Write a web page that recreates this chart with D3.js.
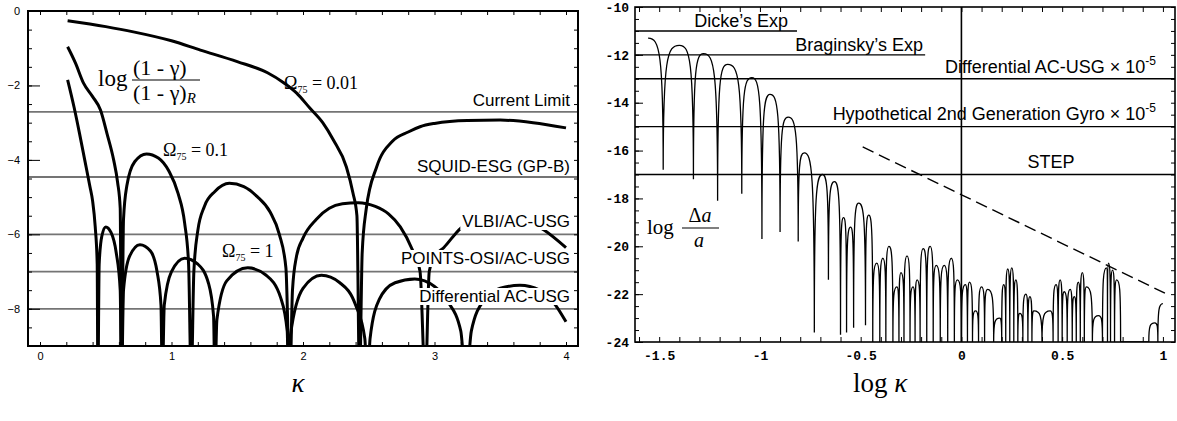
<!DOCTYPE html>
<html>
<head>
<meta charset="utf-8">
<script src="https://cdn.jsdelivr.net/npm/d3@7"></script>
<style>
body { margin: 0; background: #fff; }
svg { display: block; }
</style>
</head>
<body>
<svg id="chart" width="1177" height="421"></svg>
<script>
// ---------- left panel: log (1-g)/(1-g)_R against kappa ----------
const kappaTicks = [0, 1, 2, 3, 4];
const gammaTicks = [0, -2, -4, -6, -8];

// Omega_75 = 0.01
const curveOmega001 = [[0.21,-0.26],[0.5,-0.42],[0.71,-0.56],[1.0,-0.8],[1.22,-1.05],[1.5,-1.36],[1.73,-1.66],
  [1.85,-1.92],[1.95,-2.2],[2.05,-2.6],[2.15,-3.0],[2.23,-3.46],[2.33,-4.19],[2.38,-4.89],[2.41,-5.5],[2.43,-10],
  [2.45,-6.5],[2.48,-5.34],[2.56,-4.19],[2.68,-3.5],[2.8,-3.25],[2.89,-3.11],[3.0,-3.02],[3.25,-2.94],[3.5,-2.93],
  [3.75,-3.0],[4.0,-3.14]];
// Omega_75 = 0.1
const curveOmega01 = [[0.21,-0.96],[0.27,-1.4],[0.33,-1.93],[0.4,-2.3],[0.46,-2.66],[0.51,-3.3],[0.56,-4.0],[0.59,-4.6],
  [0.61,-5.3],[0.62,-10],[0.635,-5.6],[0.66,-4.7],[0.72,-4.05],[0.81,-3.84],[0.9,-3.95],[0.98,-4.3],[1.05,-4.9],
  [1.1,-5.7],[1.13,-6.8],[1.15,-10],[1.17,-7],[1.2,-5.9],[1.25,-5.25],[1.33,-4.85],[1.44,-4.63],[1.55,-4.72],
  [1.65,-4.98],[1.75,-5.4],[1.82,-6.0],[1.87,-6.9],[1.9,-10],[1.92,-7.5],[1.95,-6.6],[2.0,-6.1],[2.1,-5.6],[2.2,-5.3],
  [2.3,-5.18],[2.42,-5.15],[2.55,-5.25],[2.65,-5.45],[2.74,-5.8],[2.83,-6.4],[2.89,-7.0],[2.93,-10],[2.96,-7.0],
  [3.0,-6.6],[3.07,-6.36],[3.2,-5.83],[3.4,-5.5],[3.6,-5.5],[3.83,-5.88],[4.0,-6.36]];
// Omega_75 = 1
const curveOmega1 = [[0.21,-1.85],[0.26,-2.6],[0.30,-3.28],[0.34,-4.0],[0.38,-4.72],[0.40,-5.1],[0.42,-5.8],[0.435,-6.8],
  [0.44,-10],[0.45,-6.8],[0.47,-6.05],[0.50,-5.8],[0.54,-5.95],[0.58,-6.5],[0.61,-7.5],[0.62,-10],[0.635,-7.5],
  [0.68,-6.6],[0.76,-6.28],[0.84,-6.45],[0.89,-7.0],[0.92,-7.9],[0.93,-10],[0.945,-7.9],[1.0,-7.0],[1.1,-6.64],
  [1.2,-6.8],[1.28,-7.3],[1.32,-8.2],[1.33,-10],[1.345,-8.3],[1.42,-7.25],[1.58,-6.9],[1.72,-7.1],[1.83,-7.7],
  [1.88,-8.6],[1.89,-10],[1.905,-8.7],[2.0,-7.45],[2.14,-7.1],[2.28,-7.3],[2.4,-7.9],[2.47,-8.8],[2.49,-10],
  [2.51,-8.8],[2.58,-7.75],[2.7,-7.3],[2.85,-7.2],[3.0,-7.4],[3.1,-7.8],[3.2,-8.6],[3.24,-10],[3.28,-8.6],
  [3.38,-7.75],[3.5,-7.45],[3.65,-7.37],[3.8,-7.5],[3.92,-7.9],[4.0,-8.35]];

const gammaLimits = [-2.71, -4.46, -6, -7, -8];
const gammaLimitNames = ["Current Limit", "SQUID-ESG (GP-B)", "VLBI/AC-USG", "POINTS-OSI/AC-USG", "Differential AC-USG"];

// ---------- right panel: log da/a against log kappa ----------
const logKappaTicks = [-1.5, -1, -0.5, 0, 0.5, 1];
const daTicks = [-10, -12, -14, -16, -18, -20, -22, -24];
const daLimits = [-11, -12, -13, -15, -17];
const daLimitEnds = [-0.816, -0.18, null, null, null];
const daLimitNames = ["Dicke\u2019s Exp", "Braginsky\u2019s Exp", "Differential AC-USG", "Hypothetical 2nd Generation Gyro", "STEP"];
const stepLine = [[-0.49,-15.85],[1.01,-21.96]];
// peaks and dips of the oscillating curve, in order
const daExtrema = [[-1.555,-11.3],[-1.48,-16.8],[-1.40,-11.6],[-1.33,-17.2],[-1.28,-11.95],[-1.21,-18.1],[-1.16,-12.4],
  [-1.09,-17.8],[-1.04,-12.95],[-0.99,-19.7],[-0.95,-13.65],[-0.90,-19.4],[-0.86,-14.6],[-0.81,-19.8],[-0.78,-16.1],
  [-0.73,-23.6],[-0.69,-17.0],[-0.66,-21.4],[-0.63,-17.3],[-0.60,-23.7],[-0.585,-18.8],[-0.57,-23.6],[-0.55,-19.2],
  [-0.535,-23.4],[-0.51,-18.2],[-0.476,-23.3],[-0.46,-18.7],[-0.44,-24],[-0.42,-20.7],[-0.405,-24],[-0.39,-20.5],
  [-0.375,-24],[-0.36,-20.0],[-0.34,-24],[-0.32,-21.7],[-0.31,-24],[-0.30,-21.1],[-0.285,-24],[-0.27,-20.4],
  [-0.255,-24],[-0.24,-21.7],[-0.23,-24],[-0.22,-21.4],[-0.205,-24],[-0.19,-20.1],[-0.172,-24],[-0.155,-20.0],
  [-0.14,-24],[-0.125,-20.8],[-0.105,-24],[-0.085,-20.8],[-0.068,-24],[-0.05,-20.5],[-0.035,-24],[-0.02,-21.4],
  [0.0,-24],[0.02,-21.6],[0.03,-24],[0.04,-21.5],[0.055,-24],[0.07,-22.7],[0.085,-24],[0.10,-21.7],[0.115,-24],
  [0.13,-21.8],[0.16,-24],[0.19,-23.0],[0.20,-24],[0.21,-21.6],[0.22,-24],[0.23,-20.95],[0.24,-24],[0.25,-20.9],
  [0.26,-24],[0.27,-21.4],[0.28,-24],[0.29,-22.8],[0.305,-24],[0.32,-22.0],[0.33,-24],[0.34,-22.1],[0.35,-24],
  [0.36,-22.7],[0.40,-24],[0.44,-22.7],[0.455,-24],[0.47,-21.6],[0.48,-24],[0.49,-21.4],[0.50,-24],[0.51,-21.9],
  [0.525,-24],[0.54,-21.8],[0.55,-24],[0.56,-22.1],[0.57,-24],[0.58,-21.5],[0.59,-24],[0.60,-21.1],[0.61,-24],
  [0.62,-21.7],[0.65,-24],[0.68,-22.9],[0.70,-24],[0.72,-20.9],[0.725,-24],[0.73,-20.7],[0.74,-24],[0.75,-21.0],
  [0.76,-24],[0.77,-21.4],[0.79,-24],[0.93,-24],[0.96,-23.2],[0.975,-24],[1.0,-22.4]];

const svg = d3.select("#chart");
const sans = "Liberation Sans, Arial, sans-serif";
const serif = "Liberation Serif, Times New Roman, serif";
const mono = "Liberation Mono, Courier New, monospace";

// curve with a sharp cusp at every dip and a round top at every peak
function Cusp(context) { this._context = context; }
Cusp.prototype = {
  areaStart() {}, areaEnd() {},
  lineStart() { this._p = []; },
  point(x, y) { this._p.push([+x, +y]); },
  lineEnd() {
    const p = this._p, c = this._context;
    if (!p.length) return;
    c.moveTo(p[0][0], p[0][1]);
    for (let i = 1; i < p.length; i++) {
      const [x0, y0] = p[i - 1], [x1, y1] = p[i];
      if (y1 < y0) c.bezierCurveTo(x0, y0 + (y1 - y0) * 0.9, x0 + (x1 - x0) * 0.25, y1, x1, y1);
      else if (y1 > y0) c.bezierCurveTo(x0 + (x1 - x0) * 0.75, y0, x1, y1 + (y0 - y1) * 0.9, x1, y1);
      else c.lineTo(x1, y1);
    }
  }
};
const curveCusp = ctx => new Cusp(ctx);

// ================= left panel =================
const L = {x0: 28, x1: 578, y0: 11, y1: 346};
const xL = d3.scaleLinear().domain([0, 4]).range([40, 566]);
const yL = d3.scaleLinear().domain([-9, 0]).range([346, 11]);

svg.append("clipPath").attr("id", "clipL")
  .append("rect").attr("x", L.x0).attr("y", L.y0).attr("width", L.x1 - L.x0).attr("height", L.y1 - L.y0);

const left = svg.append("g");

// limit lines
left.selectAll("line.lim").data(gammaLimits).join("line")
  .attr("x1", L.x0).attr("x2", L.x1)
  .attr("y1", d => yL(d)).attr("y2", d => yL(d))
  .attr("stroke", "#747474").attr("stroke-width", 1.8);

const lineL = d3.line().x(d => xL(d[0])).y(d => yL(d[1])).curve(d3.curveMonotoneX);
left.append("g").attr("clip-path", "url(#clipL)")
  .selectAll("path").data([curveOmega001, curveOmega01, curveOmega1]).join("path")
  .attr("d", lineL).attr("fill", "none").attr("stroke", "#000").attr("stroke-width", 3);

// limit labels, with a white box behind the lower ones
const gammaLabelBase = [106, 172, 227, 264, 302];
gammaLimitNames.forEach((name, i) => {
  const g = left.append("g");
  const t = g.append("text").attr("x", 570).attr("y", gammaLabelBase[i])
    .attr("text-anchor", "end").attr("font-family", sans).attr("font-size", 17).text(name);
  if (i >= 2) {
    const b = t.node().getBBox();
    g.insert("rect", "text").attr("x", b.x - 2).attr("y", b.y + 1).attr("width", b.width + 4).attr("height", b.height - 2)
      .attr("fill", "#fff");
  }
});

// omega labels
function omegaLabel(g, x, y, val) {
  const t = g.append("text").attr("x", x).attr("y", y).attr("font-family", serif).attr("font-size", 18);
  t.append("tspan").text("\u03A9");
  t.append("tspan").attr("font-size", 10).attr("dy", 4).text("75");
  t.append("tspan").attr("dy", -4).text(" = " + val);
}
omegaLabel(left, 284, 89, "0.01");
omegaLabel(left, 163, 156, "0.1");
omegaLabel(left, 222, 257, "1");

// y-axis fraction label
left.append("text").attr("x", 98).attr("y", 86).attr("font-family", serif).attr("font-size", 23).text("log");
left.append("line").attr("x1", 132).attr("x2", 200).attr("y1", 80).attr("y2", 80).attr("stroke", "#000").attr("stroke-width", 1.2);
left.append("text").attr("x", 133).attr("y", 75).attr("font-family", serif).attr("font-size", 22).text("(1 - \u03B3)");
const den = left.append("text").attr("x", 133).attr("y", 100).attr("font-family", serif).attr("font-size", 22).text("(1 - \u03B3)");
den.append("tspan").attr("font-size", 15).attr("font-style", "italic").attr("dy", 3).text("R");

// ticks
const fineTicksL = d3.range(0, 4.01, 0.2);
const fineTicksGamma = d3.range(-9, 0.01, 0.5);
function noDomain(g) { g.select(".domain").remove(); }
left.append("g").attr("transform", `translate(0,${L.y1})`)
  .call(d3.axisBottom(xL).tickValues(fineTicksL).tickSize(-4).tickFormat("")).call(noDomain);
left.append("g").attr("transform", `translate(0,${L.y0})`)
  .call(d3.axisTop(xL).tickValues(fineTicksL).tickSize(-4).tickFormat("")).call(noDomain);
left.append("g").attr("transform", `translate(${L.x0},0)`)
  .call(d3.axisLeft(yL).tickValues(fineTicksGamma).tickSize(-4).tickFormat("")).call(noDomain);
left.append("g").attr("transform", `translate(${L.x1},0)`)
  .call(d3.axisRight(yL).tickValues(fineTicksGamma).tickSize(-4).tickFormat("")).call(noDomain);
left.append("g").attr("transform", `translate(${L.x0},0)`)
  .call(d3.axisLeft(yL).tickValues(gammaTicks).tickSize(-12).tickPadding(8)
    .tickFormat(d => String(d).replace("-", "\u2212")))
  .call(noDomain)
  .call(g => g.selectAll("text").attr("font-family", sans).attr("font-size", 11));
left.append("g").attr("transform", `translate(0,${L.y1})`)
  .call(d3.axisBottom(xL).tickValues(kappaTicks).tickSize(0).tickPadding(6).tickFormat(d => String(d)))
  .call(noDomain)
  .call(g => g.selectAll("text").attr("font-family", sans).attr("font-size", 11));

left.append("rect").attr("x", L.x0).attr("y", L.y0).attr("width", L.x1 - L.x0).attr("height", L.y1 - L.y0)
  .attr("fill", "none").attr("stroke", "#000").attr("stroke-width", 2);

left.append("text").attr("x", 298).attr("y", 392).attr("text-anchor", "middle")
  .attr("font-family", serif).attr("font-style", "italic").attr("font-size", 27).text("\u03BA");

// ================= right panel =================
const R = {x0: 635, x1: 1175, y0: 7, y1: 342};
const xR = d3.scaleLinear().domain([-1.62, 1.06]).range([R.x0, R.x1]);
const yR = d3.scaleLinear().domain([-24, -10]).range([R.y1, R.y0]);

svg.append("clipPath").attr("id", "clipR")
  .append("rect").attr("x", R.x0).attr("y", R.y0).attr("width", R.x1 - R.x0).attr("height", R.y1 - R.y0);

const right = svg.append("g");

right.selectAll("line.lim").data(daLimits).join("line")
  .attr("x1", R.x0).attr("x2", (d, i) => daLimitEnds[i] === null ? R.x1 : xR(daLimitEnds[i]))
  .attr("y1", d => yR(d)).attr("y2", d => yR(d))
  .attr("stroke", "#000").attr("stroke-width", 1.4);

right.append("line").attr("x1", xR(0)).attr("x2", xR(0)).attr("y1", R.y0).attr("y2", R.y1)
  .attr("stroke", "#000").attr("stroke-width", 1.6);

const lineR = d3.line().x(d => xR(d[0])).y(d => yR(d[1]));
right.append("path").datum(stepLine).attr("d", lineR)
  .attr("fill", "none").attr("stroke", "#000").attr("stroke-width", 1.4).attr("stroke-dasharray", "12,6");

right.append("g").attr("clip-path", "url(#clipR)")
  .append("path").datum(daExtrema).attr("d", lineR.curve(curveCusp))
  .attr("fill", "none").attr("stroke", "#000").attr("stroke-width", 1.3);

// limit labels
const daLabelPos = [[788, 27, "end"], [923, 51, "end"], [1156, 73, "end"], [1156, 120, "end"], [1051, 168, "middle"]];
daLimitNames.forEach((name, i) => {
  const t = right.append("text").attr("x", daLabelPos[i][0]).attr("y", daLabelPos[i][1])
    .attr("text-anchor", daLabelPos[i][2]).attr("font-family", sans).attr("font-size", 18).text(name);
  if (i === 2 || i === 3) {
    t.append("tspan").text(" \u00D7 10");
    t.append("tspan").attr("font-size", 12).attr("dy", -8).text("-5");
  }
});

// y-axis fraction label
right.append("text").attr("x", 647).attr("y", 234).attr("font-family", serif).attr("font-size", 21).text("log");
right.append("line").attr("x1", 682).attr("x2", 719).attr("y1", 228).attr("y2", 228).attr("stroke", "#000").attr("stroke-width", 1.2);
const numR = right.append("text").attr("x", 700).attr("y", 222).attr("text-anchor", "middle")
  .attr("font-family", serif).attr("font-size", 20).text("\u0394");
numR.append("tspan").attr("font-style", "italic").text("a");
right.append("text").attr("x", 699).attr("y", 247).attr("text-anchor", "middle")
  .attr("font-family", serif).attr("font-style", "italic").attr("font-size", 20).text("a");

// ticks
const fineTicksLogK = d3.range(-1.6, 1.01, 0.1);
const fineTicksDa = d3.range(-24, -9.99, 0.5);
right.append("g").attr("transform", `translate(0,${R.y1})`)
  .call(d3.axisBottom(xR).tickValues(fineTicksLogK).tickSize(-5).tickFormat("")).call(noDomain);
right.append("g").attr("transform", `translate(0,${R.y0})`)
  .call(d3.axisTop(xR).tickValues(fineTicksLogK).tickSize(-5).tickFormat("")).call(noDomain);
right.append("g").attr("transform", `translate(${R.x0},0)`)
  .call(d3.axisLeft(yR).tickValues(fineTicksDa).tickSize(-4).tickFormat("")).call(noDomain);
right.append("g").attr("transform", `translate(${R.x1},0)`)
  .call(d3.axisRight(yR).tickValues(fineTicksDa).tickSize(-4).tickFormat("")).call(noDomain);
right.append("g").attr("transform", `translate(${R.x0},0)`)
  .call(d3.axisLeft(yR).tickValues(daTicks).tickSize(-8).tickPadding(6).tickFormat(d => String(d)))
  .call(noDomain)
  .call(g => g.selectAll("text").attr("font-family", mono).attr("font-weight", "bold").attr("font-size", 13));
right.append("g").attr("transform", `translate(0,${R.y1})`)
  .call(d3.axisBottom(xR).tickValues(logKappaTicks).tickSize(0).tickPadding(9).tickFormat(d => String(d)))
  .call(noDomain)
  .call(g => g.selectAll("text").attr("font-family", mono).attr("font-weight", "bold").attr("font-size", 13));

right.append("rect").attr("x", R.x0).attr("y", R.y0).attr("width", R.x1 - R.x0).attr("height", R.y1 - R.y0)
  .attr("fill", "none").attr("stroke", "#000").attr("stroke-width", 1.6);

const xt = right.append("text").attr("x", 880).attr("y", 392).attr("text-anchor", "middle")
  .attr("font-family", serif).attr("font-size", 27).text("log ");
xt.append("tspan").attr("font-style", "italic").text("\u03BA");
</script>
</body>
</html>
